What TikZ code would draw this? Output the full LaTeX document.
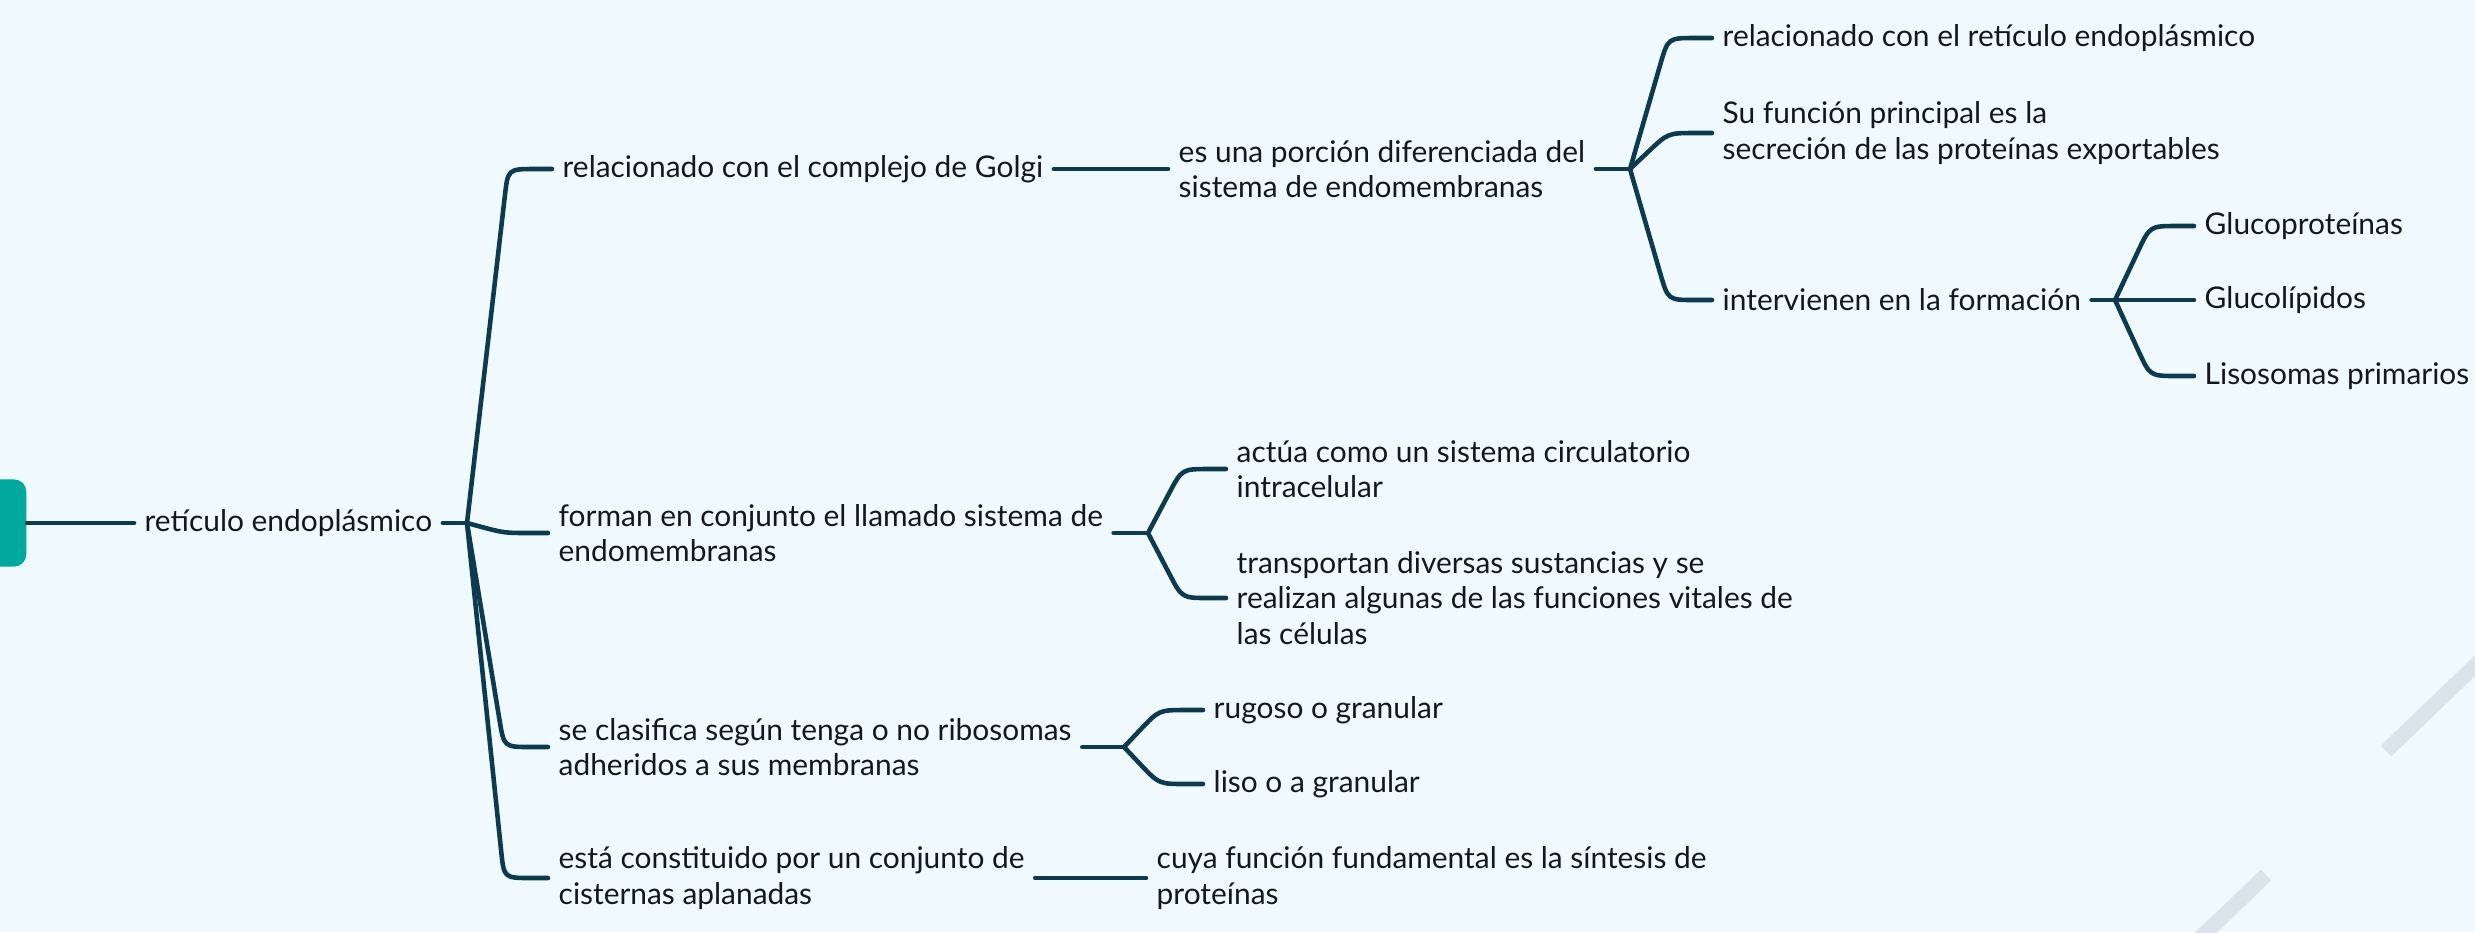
\documentclass[tikz,border=0pt]{standalone}
\usepackage{fontspec}
\setmainfont{Lato}
\usetikzlibrary{calc}
\definecolor{bgc}{RGB}{239,249,254}
\definecolor{linec}{RGB}{13,58,78}
\definecolor{rootc}{RGB}{0,168,157}
\definecolor{stripec}{RGB}{219,227,234}
\definecolor{txtc}{RGB}{20,24,28}
\tikzset{
  t/.style={anchor=west, inner xsep=0.1cm, inner ysep=0pt, align=left, text=txtc,
    font=\fontsize{8.5}{10}\selectfont},
  conn/.style={draw=linec, line width=1.3pt, line cap=round, line join=round},
  stripe/.style={draw=stripec, line width=0.15cm},
}
\newcommand{\brc}[2]{%
  \path let \p1=(#2.west) in coordinate (V) at ($(\x1,\y1)+(-0.44cm,0)$);
  \draw[conn] (#1) -- ($(V)!0.27cm!(#1)$) .. controls (V) .. ($(V)!0.27cm!(#2.west)$) -- (#2.west);
}
\begin{document}
\begin{tikzpicture}[x=0.01cm, y=-0.01cm]
\useasboundingbox (0,0) rectangle (2475,932);
\fill[bgc] (0,0) rectangle (2475,932);
\begin{scope}
\clip (0,0) rectangle (2475,932);
\draw[stripe] (2386,751) -- (2510,632);
\draw[stripe] (2266,875) -- (2170,967);
\node[fill=rootc, rounded corners=0.12cm, minimum width=0.6cm, minimum height=0.87cm, inner sep=0pt, anchor=east] (root) at (27,523) {};
\end{scope}
% nodes
\node[t] (ret) at (134,523) {retículo endoplásmico};
\coordinate (J0) at (467,523);
\node[t] (golgi) at (552,169) {relacionado con el complejo de Golgi};
\node[t] (forman) at (548,533) {forman en conjunto el llamado sistema de\\endomembranas};
\node[t] (clasif) at (548,747) {se clasifica según tenga o no ribosomas\\adheridos a sus membranas};
\node[t] (esta) at (548,878) {está constituido por un conjunto de\\cisternas aplanadas};
\node[t] (porcion) at (1168,169) {es una porción diferenciada del\\sistema de endomembranas};
\coordinate (J1) at (1630,169);
\node[t] (retic) at (1712,38) {relacionado con el retículo endoplásmico};
\node[t] (sufun) at (1712,133) {Su función principal es la\\secreción de las proteínas exportables};
\node[t] (interv) at (1712,300) {intervienen en la formación};
\coordinate (J2) at (2115,300);
\node[t] (gprot) at (2194,226) {Glucoproteínas};
\node[t] (glip) at (2194,300) {Glucolípidos};
\node[t] (lisos) at (2194,376) {Lisosomas primarios};
\coordinate (J3) at (1148,533);
\node[t] (actua) at (1226,469) {actúa como un sistema circulatorio\\intracelular};
\node[t] (transp) at (1226,598) {transportan diversas sustancias y se\\realizan algunas de las funciones vitales de\\las células};
\coordinate (J4) at (1124,747);
\node[t] (rugoso) at (1203,710) {rugoso o granular};
\node[t] (lisoag) at (1203,784) {liso o a granular};
\node[t] (cuya) at (1146,878) {cuya función fundamental es la síntesis de\\proteínas};
% connectors
\draw[conn] (root.east) -- (ret.west);
\draw[conn] (ret.east) -- (J0);
\brc{J0}{golgi}
\brc{J0}{forman}
\brc{J0}{clasif}
\brc{J0}{esta}
\draw[conn] (golgi.east) -- (porcion.west);
\draw[conn] (porcion.east) -- (J1);
\brc{J1}{retic}
\brc{J1}{sufun}
\brc{J1}{interv}
\draw[conn] (interv.east) -- (J2);
\brc{J2}{gprot}
\draw[conn] (J2) -- (glip.west);
\brc{J2}{lisos}
\draw[conn] (forman.east) -- (J3);
\brc{J3}{actua}
\brc{J3}{transp}
\draw[conn] (clasif.east) -- (J4);
\brc{J4}{rugoso}
\brc{J4}{lisoag}
\draw[conn] (esta.east) -- (cuya.west);
\end{tikzpicture}
\end{document}
